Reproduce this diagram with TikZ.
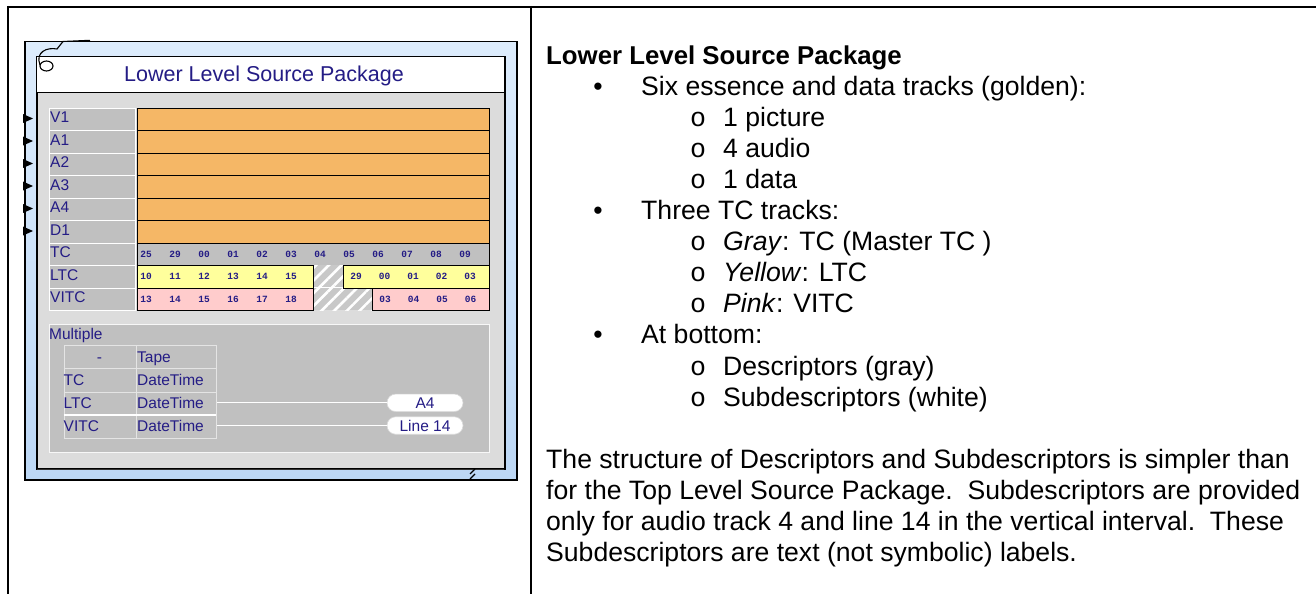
\documentclass[tikz,border=0pt]{standalone}
\usepackage{fontspec}
\setmainfont{Liberation Sans}
\newfontfamily\monofont{Liberation Mono}
\usetikzlibrary{patterns.meta,shapes.misc}
\definecolor{blueA}{HTML}{DDECFC}
\definecolor{blueB}{HTML}{BCD7F5}
\definecolor{panel}{HTML}{DCDCDC}
\definecolor{cellgray}{HTML}{C0C0C0}
\definecolor{gold}{HTML}{F5B766}
\definecolor{ltcy}{HTML}{FFFF9C}
\definecolor{vitcp}{HTML}{FFCCCC}
\definecolor{hatchgray}{HTML}{C8C8C8}
\definecolor{ink}{HTML}{241C85}
\definecolor{gridl}{HTML}{E4E4E4}
\begin{document}
\begin{tikzpicture}[x=1pt,y=-1pt,
  frame/.style={line width=2.5pt},
  box/.style={anchor=north west,inner sep=0pt},
  lbl/.style={font=\fontsize{15.5}{16}\selectfont,text=ink,inner sep=0pt,anchor=base west},
  lblcell/.style={box,fill=cellgray,draw=white,line width=1.2pt,minimum width=86pt,minimum height=22.5pt},
  trk/.style={box,draw=black,line width=1.2pt,minimum height=22.5pt},
  dig/.style={font=\monofont\bfseries\fontsize{9.5}{10}\selectfont,text=ink,inner sep=0pt},
  tcell/.style={box,fill=cellgray,draw=gridl,line width=1.2pt,minimum height=23.25pt},
  pill/.style={rounded rectangle,fill=white,draw=gray!30,line width=0.6pt,minimum width=76pt,minimum height=17.5pt,inner sep=0pt,font=\fontsize{15.5}{16}\selectfont,text=ink},
  body/.style={font=\fontsize{26.6}{31}\selectfont,anchor=base west,inner sep=0pt},
  bul/.style={font=\fontsize{26.6}{31}\selectfont,anchor=base,inner sep=0pt},
  sub/.style={font=\monofont\fontsize{26.6}{31}\selectfont,anchor=base,inner sep=0pt}]
\useasboundingbox (0,0) rectangle (1316,594);
% outer table frame
\draw[frame] (7,7) -- (1316,7);
\draw[frame] (8,6) -- (8,594);
\draw[frame] (531,6) -- (531,594);
% package box
\node[box,top color=blueA,bottom color=blueB,draw=black,line width=1.5pt,minimum width=492pt,minimum height=438pt] (pkg) at (24,41) {};
\node[box,fill=panel,draw=black,line width=1.5pt,minimum width=468pt,minimum height=412pt] (inner) at (36,56) {};
\draw[line width=1.2pt,black!80] (37,469.2) -- (504,469.2);
\node[box,fill=white,draw=black,line width=1.2pt,minimum width=468pt,minimum height=36pt] (titlebar) at (36,56) {};
\node[font=\fontsize{21.5}{22}\selectfont,text=ink,inner sep=0pt] (title) at (264,76) {Lower Level Source Package};
% curl glyph
\draw[line width=1.1pt] (46.5,66) ellipse [x radius=6.5,y radius=5];
\draw[line width=1.1pt] (40,65) .. controls (35,52) and (47,47) .. (57,49) -- (63,41.5) -- (90,40.3);
% track label cells
\foreach \n [count=\i from 0] in {V1,A1,A2,A3,A4,D1,TC,LTC,VITC} {
  \node[lblcell] (cell\n) at (49,{107.5+22.5*\i}) {};
  \node[lbl] (lbl\n) at (50,{107.5+22.5*\i+15}) {\n};
}
% essence tracks with input ports
\foreach \n [count=\i from 0] in {V1,A1,A2,A3,A4,D1} {
  \node[trk,fill=gold,minimum width=352pt] (trk\n) at (137,{107.5+22.5*\i}) {};
  \fill (23,{107.5+22.5*\i+6.5}) -- (33,{107.5+22.5*\i+11}) -- (23,{107.5+22.5*\i+15.5}) -- cycle;
}
% TC track
\node[trk,fill=cellgray,minimum width=352pt] (trkTC) at (137,242.5) {};
\foreach \d [count=\k from 0] in {25,29,00,01,02,03,04,05,06,07,08,09}
  \node[dig] (tc\k) at ({146+29*\k},254.5) {\d};
% hatched gaps
\fill[hatchgray] (313,265) rectangle (343,287.5);
\fill[hatchgray] (313,287.5) rectangle (372,310);
\fill[pattern={Lines[angle=45,distance=9pt,line width=2.6pt]},pattern color=white] (313,265) rectangle (343,287.5);
\fill[pattern={Lines[angle=45,distance=9pt,line width=2.6pt]},pattern color=white] (313,287.5) rectangle (372,310);
\draw[white,line width=1.2pt] (313,287.5) -- (343,287.5);
% LTC track
\node[trk,fill=ltcy,minimum width=176pt] (ltcA) at (137,265) {};
\node[trk,fill=ltcy,minimum width=146pt] (ltcB) at (343,265) {};
\foreach \d [count=\k from 0] in {10,11,12,13,14,15}
  \node[dig] (ltca\k) at ({146+29*\k},276.5) {\d};
\foreach \d [count=\k from 0] in {29,00,01,02,03}
  \node[dig] (ltcb\k) at ({356+28.5*\k},276.5) {\d};
% VITC track
\node[trk,fill=vitcp,minimum width=176pt] (vitcA) at (137,287.5) {};
\node[trk,fill=vitcp,minimum width=117pt] (vitcB) at (372,287.5) {};
\foreach \d [count=\k from 0] in {13,14,15,16,17,18}
  \node[dig] (vitca\k) at ({146+29*\k},299) {\d};
\foreach \d [count=\k from 0] in {03,04,05,06}
  \node[dig] (vitcb\k) at ({385+28.5*\k},299) {\d};
% descriptors
\node[box,fill=cellgray,draw=white!94!gray,line width=1.4pt,minimum width=440pt,minimum height=128pt] (desc) at (49,324) {};
\node[lbl] (multi) at (49,339) {Multiple};
\foreach \a/\b [count=\r from 0] in {-/Tape,TC/DateTime,LTC/DateTime,VITC/DateTime} {
  \node[tcell,minimum width=72.5pt] (dA\r) at (63.5,{345+23.25*\r}) {};
  \node[tcell,minimum width=80pt] (dB\r) at (136,{345+23.25*\r}) {};
  \node[lbl] (tB\r) at (137,{345+23.25*\r+17}) {\b};
}
\node[lbl,anchor=base] (tA0) at (99.5,362) {-};
\node[lbl] (tA1) at (63.5,{345+23.25+17}) {TC};
\node[lbl] (tA2) at (63.5,{345+46.5+17}) {LTC};
\node[lbl] (tA3) at (63.5,{345+69.75+17}) {VITC};
\draw[white,line width=1.8pt] (63.5,414.75) -- (216,414.75);
\node[pill] (pillA) at (425,402.8) {A4};
\node[pill] (pillB) at (425,425.5) {Line 14};
\draw[white,line width=1pt] (dB2.east |- pillA.west) -- (pillA.west);
\draw[white,line width=1pt] (dB3.east |- pillB.west) -- (pillB.west);
% resize grip
\draw[line width=1.3pt] (470,474) -- (475,469);
\draw[line width=1.3pt] (470,479) -- (475,474);
% explanatory text
\node[body,font=\bfseries\fontsize{25.8}{31}\selectfont] (head) at (546,64) {Lower Level Source Package};
\node[bul] (b1) at (598,{64+31.1*1}) {•};
\node[body] (t1) at (641,{64+31.1*1}) {Six essence and data tracks (golden):};
\node[sub] (s1) at (698,{64+31.1*2}) {o};
\node[body] (t2) at (723,{64+31.1*2}) {1 picture};
\node[sub] (s2) at (698,{64+31.1*3}) {o};
\node[body] (t3) at (723,{64+31.1*3}) {4 audio};
\node[sub] (s3) at (698,{64+31.1*4}) {o};
\node[body] (t4) at (723,{64+31.1*4}) {1 data};
\node[bul] (b2) at (598,{64+31.1*5}) {•};
\node[body] (t5) at (641,{64+31.1*5}) {Three TC tracks:};
\node[sub] (s4) at (698,{64+31.1*6}) {o};
\node[body] (t6) at (723,{64+31.1*6}) {\textit{Gray}: TC (Master TC )};
\node[sub] (s5) at (698,{64+31.1*7}) {o};
\node[body] (t7) at (723,{64+31.1*7}) {\textit{Yellow}: LTC};
\node[sub] (s6) at (698,{64+31.1*8}) {o};
\node[body] (t8) at (723,{64+31.1*8}) {\textit{Pink}: VITC};
\node[bul] (b3) at (598,{64+31.1*9}) {•};
\node[body] (t9) at (641,{64+31.1*9}) {At bottom:};
\node[sub] (s7) at (698,{64+31.1*10}) {o};
\node[body] (t10) at (723,{64+31.1*10}) {Descriptors (gray)};
\node[sub] (s8) at (698,{64+31.1*11}) {o};
\node[body] (t11) at (723,{64+31.1*11}) {Subdescriptors (white)};
\node[body] (p1) at (546,{64+31.1*13}) {The structure of Descriptors and Subdescriptors is simpler than};
\node[body] (p2) at (546,{64+31.1*14}) {for the Top Level Source Package.\ \ Subdescriptors are provided};
\node[body] (p3) at (546,{64+31.1*15}) {only for audio track 4 and line 14 in the vertical interval.\ \ These};
\node[body] (p4) at (546,{64+31.1*16}) {Subdescriptors are text (not symbolic) labels.};
\end{tikzpicture}
\end{document}
